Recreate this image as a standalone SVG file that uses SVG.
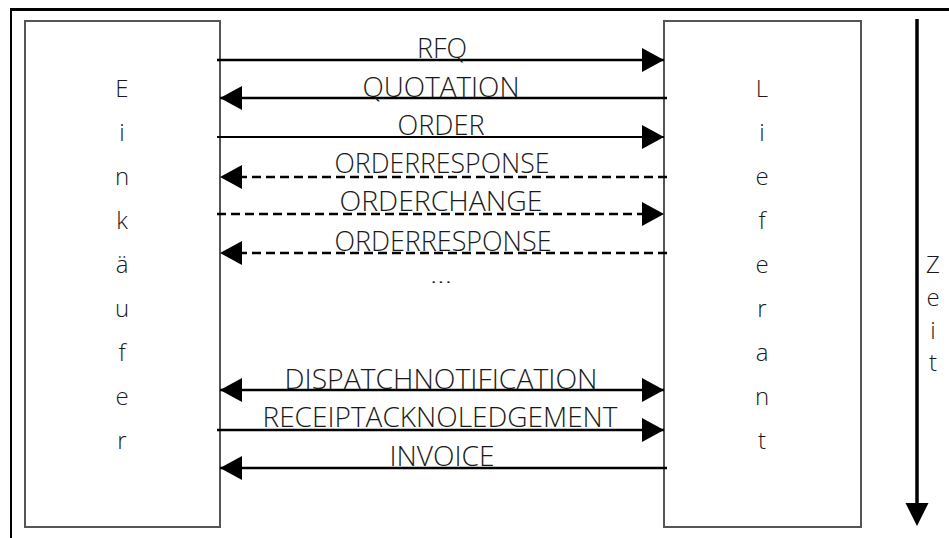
<svg xmlns="http://www.w3.org/2000/svg" width="949" height="538" viewBox="0 0 949 538">
<style>
.frame{stroke:#000;fill:none}
.box{fill:#fff;stroke:#555;stroke-width:2}
.lbl{font-family:"Open Sans","Liberation Sans",sans-serif;font-weight:300;font-size:28px;fill:#1a1a1a;text-anchor:middle}
.vt{font-family:"Open Sans","Liberation Sans",sans-serif;font-weight:300;font-size:24px;fill:#1a1a1a;text-anchor:middle}
.msg{stroke:#000;fill:none}
.dash{stroke-dasharray:9 5}
</style>
<defs>
<marker id="ah" markerUnits="userSpaceOnUse" markerWidth="24" markerHeight="26" refX="22" refY="12" orient="auto-start-reverse" viewBox="0 0 24 26">
<path d="M0,0 L22,12 L0,24 Z" fill="#000"/>
</marker>
</defs>
<g id="frame">
<line class="frame" x1="10" y1="9.5" x2="949" y2="9.5" stroke-width="3"/>
<line class="frame" x1="11" y1="8" x2="11" y2="538" stroke-width="2"/>
</g>
<g id="einkaeufer">
<rect class="box" x="25" y="21" width="195" height="506"/>
<text class="vt" x="122" y="97">E</text>
<text class="vt" x="122" y="141">i</text>
<text class="vt" x="122" y="185">n</text>
<text class="vt" x="122" y="229">k</text>
<text class="vt" x="122" y="273">ä</text>
<text class="vt" x="122" y="317">u</text>
<text class="vt" x="122" y="361">f</text>
<text class="vt" x="122" y="405">e</text>
<text class="vt" x="122" y="449">r</text>
</g>
<g id="lieferant">
<rect class="box" x="664" y="21" width="197" height="506"/>
<text class="vt" x="762" y="97">L</text>
<text class="vt" x="762" y="141">i</text>
<text class="vt" x="762" y="185">e</text>
<text class="vt" x="762" y="229">f</text>
<text class="vt" x="762" y="273">e</text>
<text class="vt" x="762" y="317">r</text>
<text class="vt" x="762" y="361">a</text>
<text class="vt" x="762" y="405">n</text>
<text class="vt" x="762" y="449">t</text>
</g>
<g id="zeit">
<line x1="917" y1="19" x2="917" y2="505" stroke="#000" stroke-width="3.5"/>
<path d="M905.5,503 L928.5,503 L917,526 Z" fill="#000"/>
<text class="vt" x="933" y="273">Z</text>
<text class="vt" x="933" y="306">e</text>
<text class="vt" x="933" y="339">i</text>
<text class="vt" x="933" y="371">t</text>
</g>
<g id="connectors">
<line class="msg" x1="217" y1="60" x2="664" y2="60" stroke-width="2.7" marker-end="url(#ah)"/>
<line class="msg" x1="667" y1="98" x2="220" y2="98" stroke-width="2.7" marker-end="url(#ah)"/>
<line class="msg" x1="217" y1="137" x2="664" y2="137" stroke-width="1.8" marker-end="url(#ah)"/>
<line class="msg dash" x1="667" y1="177" x2="220" y2="177" stroke-width="2.3" marker-end="url(#ah)"/>
<line class="msg dash" x1="217" y1="214" x2="664" y2="214" stroke-width="2.3" marker-end="url(#ah)"/>
<line class="msg dash" x1="667" y1="253" x2="220" y2="253" stroke-width="2.3" marker-end="url(#ah)"/>
<line class="msg" x1="220" y1="390" x2="664" y2="390" stroke-width="2.7" marker-start="url(#ah)" marker-end="url(#ah)"/>
<line class="msg" x1="217" y1="430" x2="664" y2="430" stroke-width="2.7" marker-end="url(#ah)"/>
<line class="msg" x1="667" y1="468" x2="220" y2="468" stroke-width="2.3" marker-end="url(#ah)"/>
</g>
<g id="labels">
<text class="lbl" x="442" y="58" textLength="50" lengthAdjust="spacingAndGlyphs">RFQ</text>
<text class="lbl" x="441" y="97" textLength="157" lengthAdjust="spacingAndGlyphs">QUOTATION</text>
<text class="lbl" x="441" y="135" textLength="87" lengthAdjust="spacingAndGlyphs">ORDER</text>
<text class="lbl" x="442" y="173" textLength="215" lengthAdjust="spacingAndGlyphs">ORDERRESPONSE</text>
<text class="lbl" x="441" y="211" textLength="203" lengthAdjust="spacingAndGlyphs">ORDERCHANGE</text>
<text class="lbl" x="443" y="251" textLength="217" lengthAdjust="spacingAndGlyphs">ORDERRESPONSE</text>
<text class="lbl" x="441" y="283" style="font-size:18px" textLength="22" lengthAdjust="spacingAndGlyphs">...</text>
<text class="lbl" x="441" y="389" textLength="313" lengthAdjust="spacingAndGlyphs">DISPATCHNOTIFICATION</text>
<text class="lbl" x="440" y="427" textLength="355" lengthAdjust="spacingAndGlyphs">RECEIPTACKNOLEDGEMENT</text>
<text class="lbl" x="442" y="466" textLength="105" lengthAdjust="spacingAndGlyphs">INVOICE</text>
</g>
</svg>
